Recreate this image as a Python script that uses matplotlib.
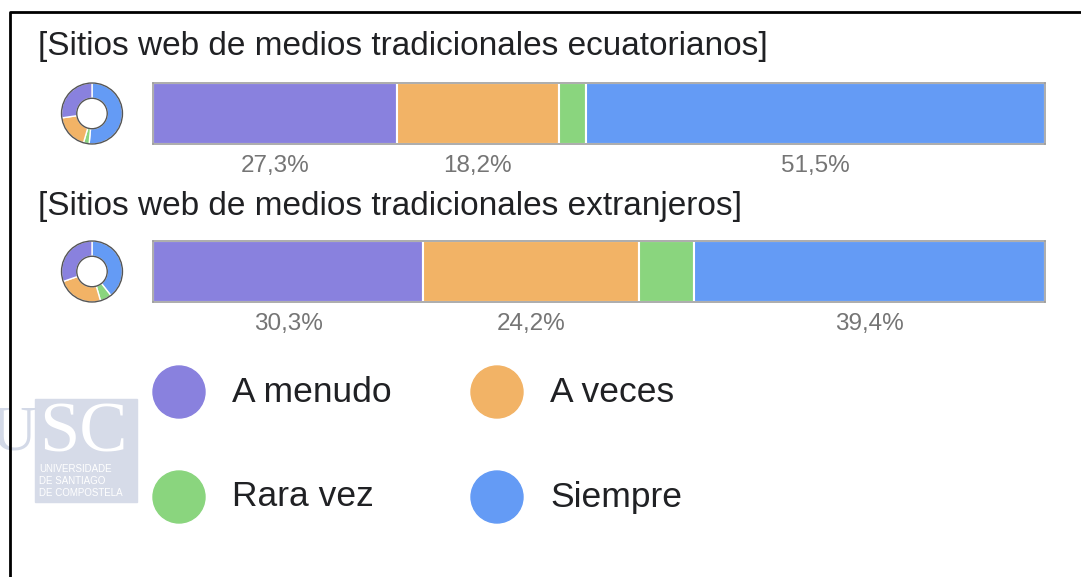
import numpy as np
import matplotlib.pyplot as plt
from matplotlib.patches import Circle, Rectangle

plt.rcParams['font.family'] = ['Liberation Sans', 'DejaVu Sans']

# ---------------------------------
# Data
# ---------------------------------
questions = ["[Sitios web de medios tradicionales ecuatorianos]",
             "[Sitios web de medios tradicionales extranjeros]"]
categories = ["A menudo", "A veces", "Rara vez", "Siempre"]
ecuatorianos = [27.3, 18.2, 3.0, 51.5]
extranjeros = [30.3, 24.2, 6.1, 39.4]
colors = ["#8981de", "#f2b366", "#8ad57e", "#649bf5"]

series = [ecuatorianos, extranjeros]

# ---------------------------------
# Figure in pixel units
# ---------------------------------
W, H = 1081, 577
fig = plt.figure(figsize=(W / 100, H / 100), dpi=100)


def box(x0, y0, x1, y1):
    return [x0 / W, 1 - y1 / H, (x1 - x0) / W, (y1 - y0) / H]


bg = fig.add_axes([0, 0, 1, 1])
bg.set_xlim(0, W)
bg.set_ylim(H, 0)
bg.axis("off")

# USC watermark
bg.add_patch(Rectangle((35, 399), 102, 103, color="#d6dbe8", zorder=0))
bg.text(37, 434, "U", fontsize=46, family="Liberation Serif", color="#d3d9e7",
        ha="right", va="center", zorder=0)
bg.text(39, 434, "SC", fontsize=52, family="Liberation Serif", color="white",
        ha="left", va="center", zorder=1)
bg.text(39, 481, "UNIVERSIDADE\nDE SANTIAGO\nDE COMPOSTELA", fontsize=7,
        color="white", ha="left", va="center", linespacing=1.3, zorder=1)

# frame
bg.plot([10, 10, W + 5], [H + 5, 12, 12], color="black", lw=2, zorder=5)

title_y = [47, 207]
bar_y = [(83, 144), (241, 302)]

for i, vals in enumerate(series):
    bg.text(38, title_y[i], questions[i], fontsize=24, color="#202124",
            ha="left", va="center")

    # stacked bar
    y0, y1 = bar_y[i]
    ax = fig.add_axes(box(153, y0, 1045, y1))
    left = np.concatenate([[0], np.cumsum(vals)[:-1]])
    ax.barh([0], vals, left=left, height=1, color=colors,
            edgecolor="white", linewidth=1.5)
    ax.set_xlim(0, sum(vals))
    ax.set_ylim(-0.5, 0.5)
    ax.set_xticks([])
    ax.set_yticks([])
    for s in ax.spines.values():
        s.set_color("#9e9e9e")
        s.set_linewidth(1.2)
    for l, v in zip(left, vals):
        if v >= 10:
            ax.text(l + v / 2, -0.86, f"{v:.1f}%".replace(".", ","),
                    fontsize=17.5, color="#757575", ha="center", va="center")

    # donut
    cy = (y0 + y1) / 2
    dax = fig.add_axes(box(60, cy - 32, 124, cy + 32))
    order = [3, 2, 1, 0]
    dax.pie([vals[k] for k in order], colors=[colors[k] for k in order],
            startangle=90, counterclock=False,
            wedgeprops=dict(width=0.5, edgecolor="white", linewidth=1))
    dax.add_patch(Circle((0, 0), 1.0, fill=False, edgecolor="#555555", lw=1))
    dax.add_patch(Circle((0, 0), 0.5, fill=False, edgecolor="#555555", lw=1))
    dax.set_xlim(-1.05, 1.05)
    dax.set_ylim(-1.05, 1.05)
    dax.set_aspect("equal")

# legend
leg_pos = [(179, 392), (497, 392), (179, 497), (497, 497)]
for (x, y), name, c in zip(leg_pos, categories, colors):
    bg.add_patch(Circle((x, y), 26, color=c))
    bg.text(x + 53, y, name, fontsize=25.5, color="#202124",
            ha="left", va="center")

fig.savefig("out.png", dpi=100)
